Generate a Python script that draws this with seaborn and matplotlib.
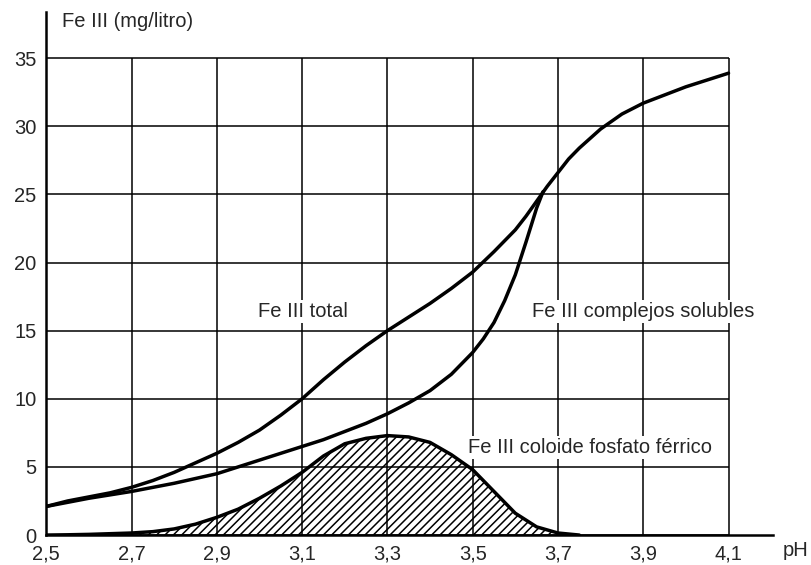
import numpy as np
import pandas as pd
import matplotlib
matplotlib.use("Agg")
import matplotlib.pyplot as plt
import seaborn as sns

# valores (Fe III en mg/litro frente al pH)
ph_total = [2.50, 2.55, 2.60, 2.65, 2.70, 2.75, 2.80, 2.85, 2.90, 2.95,
            3.00, 3.05, 3.10, 3.15, 3.20, 3.25, 3.30, 3.35, 3.40, 3.45,
            3.50, 3.55, 3.60, 3.625, 3.65, 3.675, 3.70, 3.725, 3.75, 3.80,
            3.85, 3.90, 3.95, 4.00, 4.05, 4.10]
fe_total = [2.1, 2.5, 2.8, 3.1, 3.5, 4.0, 4.6, 5.3, 6.0, 6.8,
            7.7, 8.8, 10.0, 11.4, 12.7, 13.9, 15.0, 16.0, 17.0, 18.1,
            19.3, 20.8, 22.4, 23.4, 24.5, 25.6, 26.6, 27.6, 28.4, 29.8,
            30.9, 31.7, 32.3, 32.9, 33.4, 33.9]

ph_complejos = [2.50, 2.55, 2.60, 2.65, 2.70, 2.75, 2.80, 2.85, 2.90, 2.95,
                3.00, 3.05, 3.10, 3.15, 3.20, 3.25, 3.30, 3.35, 3.40, 3.45,
                3.50, 3.525, 3.55, 3.575, 3.60, 3.625, 3.65, 3.665]
fe_complejos = [2.1, 2.4, 2.7, 2.95, 3.2, 3.5, 3.8, 4.15, 4.5, 5.0,
                5.5, 6.0, 6.5, 7.0, 7.6, 8.2, 8.9, 9.7, 10.6, 11.8,
                13.4, 14.4, 15.6, 17.2, 19.1, 21.5, 24.0, 25.2]

ph_coloide = [2.50, 2.55, 2.60, 2.65, 2.70, 2.75, 2.80, 2.85, 2.90, 2.95,
              3.00, 3.05, 3.10, 3.15, 3.20, 3.25, 3.30, 3.35, 3.40, 3.45,
              3.50, 3.55, 3.60, 3.65, 3.70, 3.75]
fe_coloide = [0.0, 0.02, 0.05, 0.1, 0.15, 0.25, 0.45, 0.8, 1.3, 1.9,
              2.7, 3.6, 4.6, 5.8, 6.7, 7.1, 7.3, 7.2, 6.8, 5.9,
              4.8, 3.2, 1.6, 0.6, 0.15, 0.0]

x_ticks = [2.5, 2.7, 2.9, 3.1, 3.3, 3.5, 3.7, 3.9, 4.1]
x_labels = ["2,5", "2,7", "2,9", "3,1", "3,3", "3,5", "3,7", "3,9", "4,1"]
y_ticks = [0, 5, 10, 15, 20, 25, 30, 35]

df_total = pd.DataFrame({"pH": ph_total, "Fe": fe_total})
df_comp = pd.DataFrame({"pH": ph_complejos, "Fe": fe_complejos})
df_col = pd.DataFrame({"pH": ph_coloide, "Fe": fe_coloide})

sns.set_style("white")
plt.rcParams["font.family"] = ["Liberation Sans", "DejaVu Sans"]
plt.rcParams["hatch.linewidth"] = 1.1
plt.rcParams["lines.solid_joinstyle"] = "round"
plt.rcParams["lines.solid_capstyle"] = "round"

fig = plt.figure(figsize=(8.11, 5.65), dpi=100)
ax = fig.add_axes([0.057, 0.053, 0.896, 0.926])

# rejilla solo dentro del recuadro 2,5-4,1 / 0-35
ax.hlines(y_ticks, 2.5, 4.1, color="black", lw=1.1, zorder=2)
ax.vlines(x_ticks, 0, 35, color="black", lw=1.1, zorder=2)

ax.fill_between(df_col["pH"], 0, df_col["Fe"], facecolor="white",
                edgecolor="black", hatch="////", lw=0, zorder=1)

sns.lineplot(data=df_total, x="pH", y="Fe", color="black", lw=2.5, ax=ax, zorder=3)
sns.lineplot(data=df_comp, x="pH", y="Fe", color="black", lw=2.5, ax=ax, zorder=3)
sns.lineplot(data=df_col, x="pH", y="Fe", color="black", lw=2.5, ax=ax, zorder=3)

ax.set_xlim(2.5, 4.204)
ax.set_ylim(0, 38.4)
ax.set_xticks(x_ticks)
ax.set_xticklabels(x_labels)
ax.set_yticks(y_ticks)
ax.tick_params(length=0, labelsize=14.5, pad=7)
ax.set_xlabel("")
ax.set_ylabel("")

for s in ["top", "right"]:
    ax.spines[s].set_visible(False)
for s in ["left", "bottom"]:
    ax.spines[s].set_color("black")
    ax.spines[s].set_linewidth(1.8)

box = dict(facecolor="white", edgecolor="none", pad=1.5)
ax.text(2.537, 37.7, "Fe III (mg/litro)", fontsize=14.5, ha="left", va="center")
ax.text(2.997, 16.4, "Fe III total", fontsize=14.5, ha="left", va="center",
        bbox=box, zorder=4)
ax.text(3.639, 16.4, "Fe III complejos solubles", fontsize=14.5, ha="left",
        va="center", bbox=box, zorder=4)
ax.text(3.489, 6.4, "Fe III coloide fosfato férrico", fontsize=14.5, ha="left",
        va="center", bbox=box, zorder=4)
ax.text(4.228, -1.1, "pH", fontsize=14.5, ha="left", va="center")

fig.savefig("out.png", dpi=100)
